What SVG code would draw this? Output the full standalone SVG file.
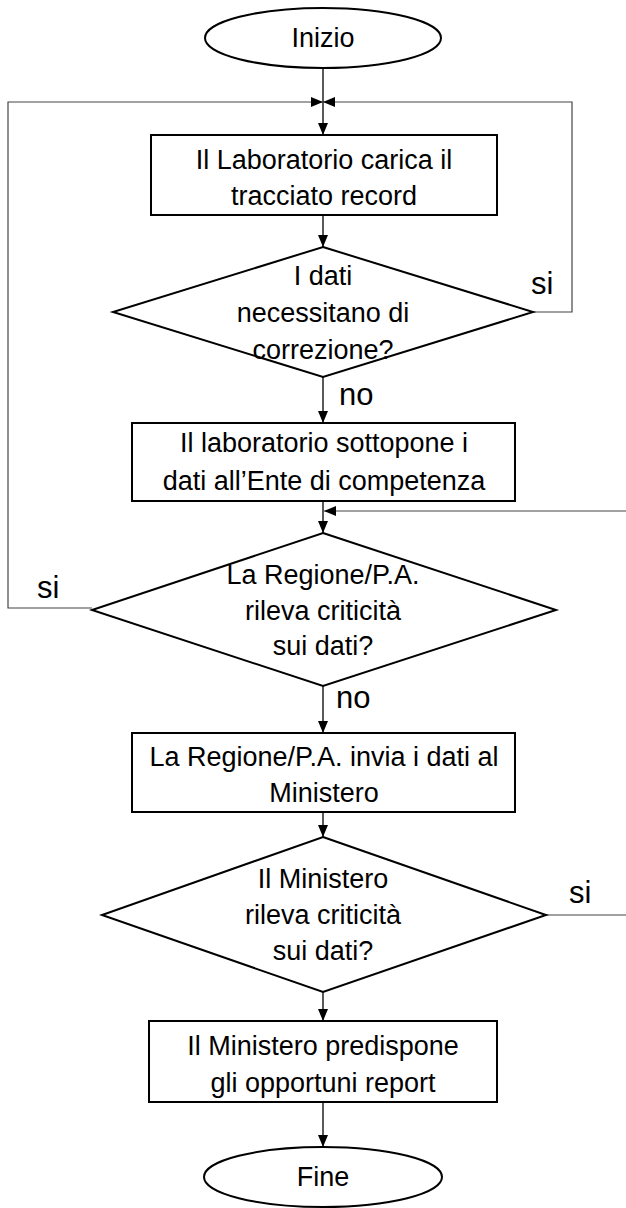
<svg xmlns="http://www.w3.org/2000/svg" width="626" height="1208" viewBox="0 0 626 1208">
<style>
.shape{fill:#fff;stroke:#000;stroke-width:2}
.t{font-family:"Liberation Sans",Arial,sans-serif;font-size:27px;fill:#000;text-anchor:middle}
.lbl{font-family:"Liberation Sans",Arial,sans-serif;font-size:31px;fill:#000}
.c{fill:none;stroke:#000;stroke-width:1.3}
.loop{fill:none;stroke:#444;stroke-width:1.2}
</style>
<defs>
<marker id="ah" markerUnits="userSpaceOnUse" markerWidth="12" markerHeight="10" refX="12" refY="5" orient="auto">
<path d="M0,0 L12,5 L0,10 z" fill="#000"/>
</marker>
</defs>
<rect width="626" height="1208" fill="#fff"/>
<g id="connectors">
<line class="c" x1="323" y1="68" x2="323" y2="135" marker-end="url(#ah)"/>
<line class="c" x1="323" y1="215" x2="323" y2="247" marker-end="url(#ah)"/>
<line class="c" x1="323" y1="377" x2="323" y2="423" marker-end="url(#ah)"/>
<line class="c" x1="323" y1="501" x2="323" y2="533" marker-end="url(#ah)"/>
<line class="c" x1="323" y1="686" x2="323" y2="733" marker-end="url(#ah)"/>
<line class="c" x1="323" y1="812" x2="323" y2="837" marker-end="url(#ah)"/>
<line class="c" x1="323" y1="992" x2="323" y2="1021" marker-end="url(#ah)"/>
<line class="c" x1="323" y1="1102" x2="323" y2="1147" marker-end="url(#ah)"/>
<polyline class="loop" points="92,608 8,608 8,102 323,102" marker-end="url(#ah)"/>
<polyline class="loop" points="533,312 572,312 572,102 323,102" marker-end="url(#ah)"/>
<line class="loop" x1="626" y1="511" x2="324" y2="511" marker-end="url(#ah)"/>
<line class="loop" x1="546" y1="915" x2="626" y2="915"/>
<text class="lbl" x="531" y="294">si</text>
<text class="lbl" x="339" y="405">no</text>
<text class="lbl" x="37" y="598">si</text>
<text class="lbl" x="336" y="708">no</text>
<text class="lbl" x="569" y="903">si</text>
</g>
<g id="start">
<ellipse class="shape" cx="323" cy="38" rx="118" ry="30"/>
<text class="t" x="323" y="47">Inizio</text>
</g>
<g id="box1">
<rect class="shape" x="151" y="135" width="346" height="80"/>
<text class="t" x="324" y="169">Il Laboratorio carica il</text>
<text class="t" x="324" y="205">tracciato record</text>
</g>
<g id="dec1">
<polygon class="shape" points="323,247 533,312 323,377 113,312"/>
<text class="t" x="323" y="285">I dati</text>
<text class="t" x="323" y="322">necessitano di</text>
<text class="t" x="323" y="359">correzione?</text>
</g>
<g id="box2">
<rect class="shape" x="132" y="423" width="383" height="78"/>
<text class="t" x="324" y="452">Il laboratorio sottopone i</text>
<text class="t" x="324" y="490">dati all’Ente di competenza</text>
</g>
<g id="dec2">
<polygon class="shape" points="323,533 556,610 323,686 92,610"/>
<text class="t" x="323" y="584">La Regione/P.A.</text>
<text class="t" x="323" y="620">rileva criticità</text>
<text class="t" x="323" y="655">sui dati?</text>
</g>
<g id="box3">
<rect class="shape" x="132" y="733" width="383" height="79"/>
<text class="t" x="324" y="766">La Regione/P.A. invia i dati al</text>
<text class="t" x="324" y="802">Ministero</text>
</g>
<g id="dec3">
<polygon class="shape" points="323,837 546,915 323,992 102,915"/>
<text class="t" x="323" y="888">Il Ministero</text>
<text class="t" x="323" y="924">rileva criticità</text>
<text class="t" x="323" y="960">sui dati?</text>
</g>
<g id="box4">
<rect class="shape" x="149" y="1021" width="348" height="81"/>
<text class="t" x="323" y="1055">Il Ministero predispone</text>
<text class="t" x="323" y="1092">gli opportuni report</text>
</g>
<g id="end">
<ellipse class="shape" cx="323" cy="1177" rx="119" ry="30"/>
<text class="t" x="323" y="1186">Fine</text>
</g>
</svg>
